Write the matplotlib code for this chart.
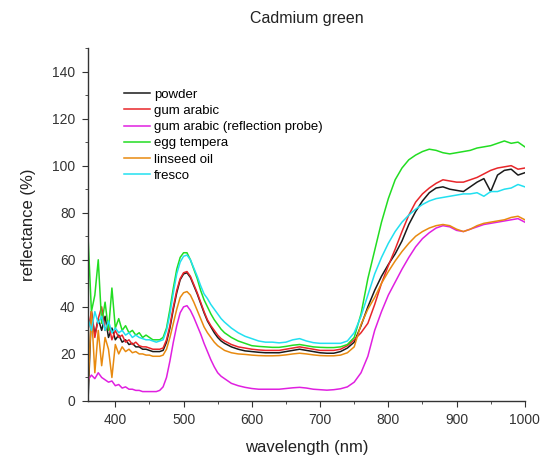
import matplotlib
matplotlib.use('Agg')
import matplotlib.pyplot as plt
from matplotlib.ticker import MultipleLocator

# wavelength grid (nm): 5 nm steps up to 560, then 10 nm steps
wl = [360, 365, 370, 375, 380, 385, 390, 395, 400, 405, 410, 415, 420, 425,
      430, 435, 440, 445, 450, 455, 460, 465, 470, 475, 480, 485, 490, 495,
      500, 505, 510, 515, 520, 525, 530, 535, 540, 545, 550, 555, 560,
      570, 580, 590, 600, 610, 620, 630, 640, 650, 660, 670, 680, 690, 700,
      710, 720, 730, 740, 750, 760, 770, 780, 790, 800, 810, 820, 830, 840,
      850, 860, 870, 880, 890, 900, 910, 920, 930, 940, 950, 960, 970, 980,
      990, 1000]

powder = [0, 38, 28, 35, 30, 36, 27, 31, 26, 28, 25, 26, 24, 24.5,
          23, 23, 22, 22, 21.5, 21, 21, 21, 21.5, 25, 31, 39, 46, 51.5,
          54, 54.5, 52.5, 49, 45.5, 41.5, 37.5, 34, 31.5, 29, 27, 25.5, 24.5,
          23, 22, 21.3, 21, 20.7, 20.5, 20.5, 20.5, 21, 21.5, 22, 21.5, 21, 20.5,
          20.3, 20.3, 21, 22.5, 25, 32, 40, 47, 53, 58, 62.5, 68, 75, 80.5,
          85, 88.5, 90.5, 91, 90, 89.5, 89, 91, 93, 94.5, 89, 96, 98, 98.5,
          96, 97]

gum_arabic = [30, 38, 27, 35, 40, 30, 33, 26, 30, 27, 28, 25, 26, 24,
              25, 23.5, 23, 23, 22.5, 22, 22, 22, 22.5, 26, 32, 40, 47, 52,
              54.5, 55, 53, 49.5, 46, 42, 38, 34.5, 32, 30, 28, 26.5, 25.5,
              24, 23, 22.5, 22, 21.7, 21.5, 21.5, 21.5, 22, 22.5, 23, 22.5, 22, 21.5,
              21.5, 21.5, 22, 23.5, 26, 29, 33, 41, 50, 57.5, 64.5, 72, 79, 84.5,
              88, 90.5, 92.5, 94, 93.5, 93, 93, 94, 95, 96.5, 98, 99, 99.5, 100,
              98.5, 99]

gum_probe = [9, 11, 9.5, 12, 10, 9, 8, 8.5, 6.5, 7, 5.5, 6, 5, 5,
             4.5, 4.5, 4, 4, 4, 4, 4, 4.5, 6, 10, 17, 25, 32, 37.5,
             40, 40.5, 38.5, 35.5, 32, 28.5, 24.5, 21, 17.5, 14.5, 12, 10.5, 9.5,
             7.5, 6.5, 5.8, 5.3, 5, 5, 5, 5, 5.3, 5.6, 5.8, 5.5, 5, 4.8,
             4.6, 4.8, 5.2, 6, 8, 12, 19, 30, 38, 45, 50.5, 56, 61, 65.5,
             69, 71.5, 73.5, 74.5, 74, 72.5, 72, 73, 74, 75, 75.5, 76, 76.5, 77,
             77.5, 76]

egg_tempera = [70, 38, 45, 60, 33, 42, 30, 48, 31, 35, 30, 32, 29, 30,
               28, 29, 27, 28, 27, 26, 26, 26, 27, 31, 39, 48, 56, 61,
               63, 63, 60, 56, 52, 47, 43, 40, 37, 34.5, 32.5, 30.5, 29,
               27, 25.5, 24.5, 23.5, 23.2, 23, 22.8, 22.8, 23.2, 23.7, 24, 23.5, 23, 22.8,
               22.7, 22.7, 23, 24, 27, 37, 52, 64, 76, 86, 94, 99, 102.5, 104.5,
               106, 107, 106.5, 105.5, 105, 105.5, 106, 106.5, 107.5, 108, 108.5, 109.5, 110.5, 109.5,
               110, 108]

linseed_oil = [5, 38, 12, 30, 15, 27, 22, 10, 24, 20, 23, 21, 22, 20.5,
               21, 20, 20, 19.5, 19.5, 19, 19, 19, 19.5, 22, 27, 33, 39, 44,
               46, 46.5, 45, 42, 38.5, 35, 31.5, 29, 27, 25, 23.5, 22.5, 21.5,
               20.5, 20, 19.8, 19.5, 19.3, 19.2, 19.2, 19.3, 19.6, 20, 20.3, 20, 19.6, 19.3,
               19.2, 19.2, 19.5, 20.5, 23, 32.5, 39, 44, 50, 55, 59.5, 63.5, 67, 70,
               72, 73.5, 74.5, 75, 74.5, 73, 72, 73, 74.5, 75.5, 76, 76.5, 77, 78,
               78.5, 77]

fresco = [35, 30, 38, 33, 36, 30, 34, 29, 31, 29, 30, 28, 29, 27,
          28, 27, 26.5, 26, 26, 25.5, 25, 25.5, 26, 30, 37, 46, 54, 59,
          61.5, 62, 60, 56.5, 53, 49, 45.5, 43.5, 41, 39, 37, 35, 33.5,
          31, 29, 27.5, 26.5, 25.5, 25, 25, 24.7, 25, 26, 26.5, 25.5, 24.8, 24.5,
          24.5, 24.5, 24.5, 25.5, 29, 36, 45, 54, 61, 67, 72, 76, 79, 81.5,
          83.5, 85, 86, 86.5, 87, 87.5, 88, 88, 88.5, 87, 89, 89, 90, 90.5,
          92, 91]

plt.rcParams['font.family'] = ['Liberation Sans', 'DejaVu Sans']

fig = plt.figure(figsize=(5.45, 4.55), dpi=100)
ax = fig.add_axes([0.1615, 0.1187, 0.8015, 0.7758])

lw = 1.1
ax.plot(wl, powder, color='#1a1a1a', lw=lw, label='powder')
ax.plot(wl, gum_arabic, color='#e8262a', lw=lw, label='gum arabic')
ax.plot(wl, gum_probe, color='#e020e0', lw=lw, label='gum arabic (reflection probe)')
ax.plot(wl, egg_tempera, color='#22dd22', lw=lw, label='egg tempera')
ax.plot(wl, linseed_oil, color='#e88a10', lw=lw, label='linseed oil')
ax.plot(wl, fresco, color='#22e0f0', lw=lw, label='fresco')

ax.set_xlim(360, 1000)
ax.set_ylim(0, 150)
ax.xaxis.set_minor_locator(MultipleLocator(50))
ax.yaxis.set_minor_locator(MultipleLocator(10))
ax.set_yticks([0, 20, 40, 60, 80, 100, 120, 140])
ax.set_xticks([400, 500, 600, 700, 800, 900, 1000])

ax.spines['top'].set_visible(False)
ax.spines['right'].set_visible(False)
for s in ['left', 'bottom']:
    ax.spines[s].set_linewidth(1.0)
    ax.spines[s].set_color('#333333')
ax.tick_params(which='major', direction='out', length=4, labelsize=10,
               colors='#333333', pad=5)
ax.tick_params(which='minor', direction='out', length=2.5, colors='#333333')

ax.set_title('Cadmium green', fontsize=11.5, color='#222222', pad=18)
ax.set_xlabel('wavelength (nm)', fontsize=12, color='#222222', labelpad=9)
ax.set_ylabel('reflectance (%)', fontsize=12, color='#222222', labelpad=12)

ax.legend(loc='upper left', bbox_to_anchor=(0.07, 0.9), frameon=False,
          fontsize=9.5, handlelength=2.0, handletextpad=0.3,
          labelspacing=0.3, borderaxespad=0)

fig.savefig('out.png', dpi=100)
